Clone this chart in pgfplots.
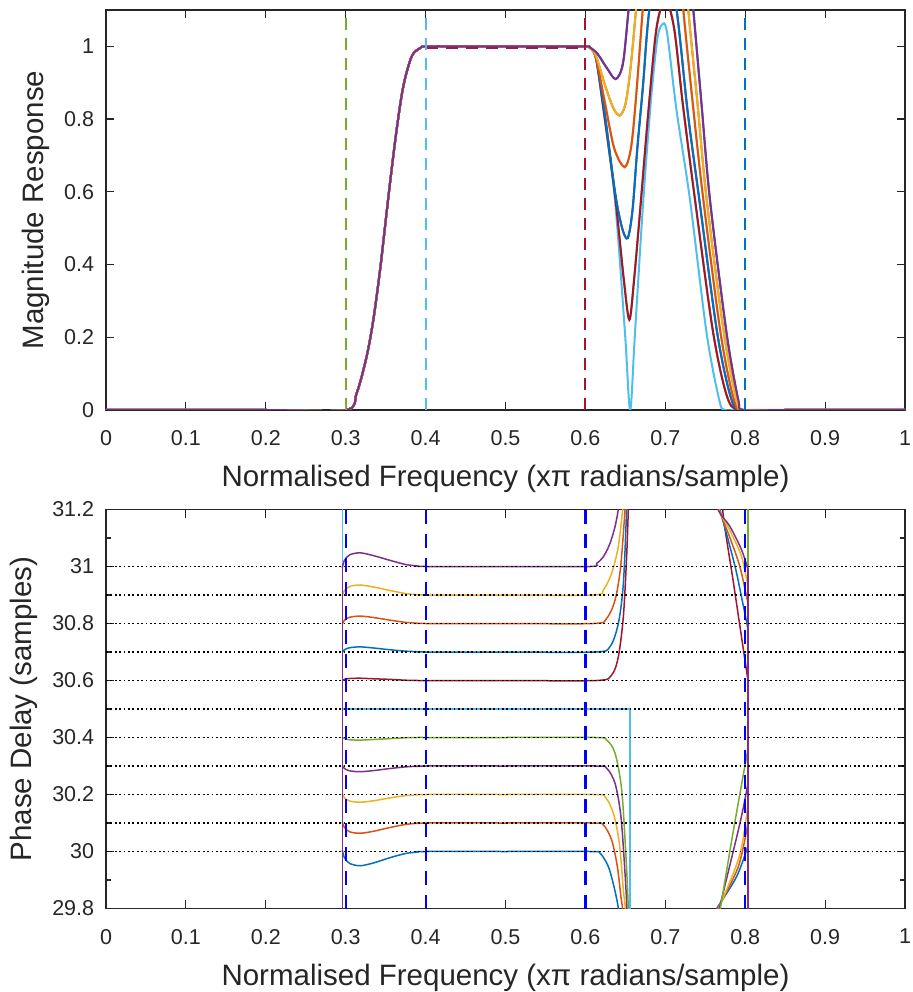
\documentclass[border=0pt]{standalone}
\usepackage{pgfplots}
\pgfplotsset{compat=1.18}
\usepackage{pgfplotstable}
\usepackage{fontspec}
\setmainfont{Liberation Sans}
\definecolor{mblue}{HTML}{0072BD}
\definecolor{morange}{HTML}{D95319}
\definecolor{myellow}{HTML}{EDB120}
\definecolor{mpurple}{HTML}{7E2F8E}
\definecolor{mgreen}{HTML}{77AC30}
\definecolor{mcyan}{HTML}{4DBEEE}
\definecolor{mred}{HTML}{A2142F}
\definecolor{axgray}{HTML}{262626}

% magnitude responses (pairs d and 61-d share one)
\pgfplotstableread{
x y
0 0
0.2 0
0.3 0
0.3137 0.046
0.3262 0.147
0.3346 0.248
0.343 0.385
0.3492 0.504
0.3554 0.623
0.3637 0.770
0.372 0.889
0.3825 0.972
0.393 0.995
0.401 1.0
0.45 1.0
0.5 1.0
0.55 1.0
0.6 1.0
0.605 0.998
0.615 0.98
0.627 0.94
0.638 0.91
0.647 0.953
0.654 1.1
0.665 1.35
0.695 1.55
0.725 1.35
0.7351 1.1
0.745 0.85
0.7559 0.578
0.7768 0.21
0.7914 0.027
0.7977 0
0.85 0
1 0
}\magA
\pgfplotstableread{
x y
0 0
0.2 0
0.3 0
0.3137 0.046
0.3262 0.147
0.3346 0.248
0.343 0.385
0.3492 0.504
0.3554 0.623
0.3637 0.770
0.372 0.889
0.3825 0.972
0.393 0.995
0.401 1.0
0.45 1.0
0.5 1.0
0.55 1.0
0.6 1.0
0.605 0.997
0.613 0.975
0.625 0.89
0.635 0.83
0.643 0.81
0.650 0.84
0.656 0.93
0.6633 1.1
0.675 1.4
0.696 1.52
0.718 1.4
0.7288 1.1
0.74 0.85
0.7518 0.578
0.7735 0.21
0.7893 0.027
0.7977 0
0.85 0
1 0
}\magB
\pgfplotstableread{
x y
0 0
0.2 0
0.3 0
0.3137 0.046
0.3262 0.147
0.3346 0.248
0.343 0.385
0.3492 0.504
0.3554 0.623
0.3637 0.770
0.372 0.889
0.3825 0.972
0.393 0.995
0.401 1.0
0.45 1.0
0.5 1.0
0.55 1.0
0.6 1.0
0.605 0.997
0.613 0.97
0.624 0.85
0.636 0.72
0.649 0.668
0.657 0.72
0.663 0.85
0.6717 1.1
0.68 1.35
0.697 1.48
0.714 1.35
0.7226 1.1
0.735 0.83
0.7476 0.578
0.7693 0.21
0.786 0.027
0.7977 0
0.85 0
1 0
}\magC
\pgfplotstableread{
x y
0 0
0.2 0
0.3 0
0.3137 0.046
0.3262 0.147
0.3346 0.248
0.343 0.385
0.3492 0.504
0.3554 0.623
0.3637 0.770
0.372 0.889
0.3825 0.972
0.393 0.995
0.401 1.0
0.45 1.0
0.5 1.0
0.55 1.0
0.6 1.0
0.605 0.997
0.613 0.97
0.623 0.835
0.637 0.60
0.646 0.50
0.653 0.473
0.659 0.55
0.665 0.72
0.672 0.89
0.680 1.1
0.697 1.32
0.7142 1.1
0.728 0.82
0.7426 0.578
0.7651 0.21
0.7831 0.027
0.7977 0
0.85 0
1 0
}\magD
\pgfplotstableread{
x y
0 0
0.2 0
0.3 0
0.3137 0.046
0.3262 0.147
0.3346 0.248
0.343 0.385
0.3492 0.504
0.3554 0.623
0.3637 0.770
0.372 0.889
0.3825 0.972
0.393 0.995
0.401 1.0
0.45 1.0
0.5 1.0
0.55 1.0
0.6 1.0
0.605 0.997
0.613 0.97
0.6225 0.83
0.637 0.59
0.648 0.36
0.655 0.248
0.661 0.36
0.6696 0.578
0.679 0.825
0.689 1.05
0.700 1.13
0.711 1.05
0.722 0.84
0.7372 0.578
0.7601 0.21
0.7789 0.027
0.7977 0
0.85 0
1 0
}\magE
\pgfplotstableread{
x y
0 0
0.2 0
0.3 0
0.3137 0.046
0.3262 0.147
0.3346 0.248
0.343 0.385
0.3492 0.504
0.3554 0.623
0.3637 0.770
0.372 0.889
0.3825 0.972
0.393 0.995
0.401 1.0
0.45 1.0
0.5 1.0
0.55 1.0
0.6 1.0
0.605 0.997
0.613 0.97
0.6225 0.825
0.637 0.578
0.6496 0.21
0.656 0.0
0.662 0.21
0.6725 0.578
0.682 0.85
0.690 1.02
0.696 1.06
0.702 1.04
0.714 0.825
0.7309 0.578
0.7518 0.21
0.7676 0.027
0.7747 0
0.80 0
1 0
}\magF

\pgfplotsset{
  mystyle/.style={
    scale only axis, width=399.5pt, anchor=south west,
    xmin=0, xmax=1,
    xtick={0,0.1,0.2,0.3,0.4,0.5,0.6,0.7,0.8,0.9,1},
    xticklabels={0,0.1,0.2,0.3,0.4,0.5,0.6,0.7,0.8,0.9,1},
    /pgf/number format/assume math mode=true,
    tick label style={font=\fontsize{10.75}{13}\selectfont, text=axgray},
    xticklabel style={yshift=-6.8pt},
    yticklabel style={xshift=-2.4pt},
    major tick length=4pt, minor tick length=2.5pt,
    tick align=inside,
    axis line style={axgray, line width=0.6pt},
    every tick/.style={axgray, line width=0.6pt},
    label style={font=\fontsize{14.75}{17}\selectfont, text=axgray},
    xlabel={Normalised Frequency (xπ radians/sample)},
    xlabel style={at={(axis description cs:0.5,0)}, anchor=base, yshift=-38.25pt},
  }
}

\begin{document}
\begin{tikzpicture}
\useasboundingbox (0,0) rectangle (456pt,496pt);
% ---------------- top axis ----------------
\begin{axis}[mystyle,
  at={(53pt,291pt)}, height=200pt,
  ymin=0, ymax=1.1,
  ytick={0,0.2,0.4,0.6,0.8,1},
  yticklabels={0,0.2,0.4,0.6,0.8,1},
  ylabel={Magnitude Response},
  ylabel style={at={(axis description cs:-0.0776,0.5)}, anchor=base, rotate=0},
]
\addplot[mblue, line width=1pt, smooth] table {\magA};
\addplot[morange, line width=1pt, smooth] table {\magB};
\addplot[myellow, line width=1pt, smooth] table {\magC};
\addplot[mpurple, line width=1pt, smooth] table {\magD};
\addplot[mgreen, line width=1pt, smooth] table {\magE};
\addplot[mcyan, line width=1pt, smooth] table {\magF};
\addplot[mred, line width=1pt, smooth] table {\magE};
\addplot[mblue, line width=1pt, smooth] table {\magD};
\addplot[morange, line width=1pt, smooth] table {\magC};
\addplot[myellow, line width=1pt, smooth] table {\magB};
\addplot[mpurple, line width=1pt, smooth] table {\magA};
\addplot[mred!70!mpurple, line width=0.9pt, dash pattern=on 6pt off 4pt] coordinates {(0.4,0.996) (0.6,0.996)};
\addplot[mgreen, line width=1pt, dash pattern=on 6pt off 4pt] coordinates {(0.3,0) (0.3,1.1)};
\addplot[mcyan, line width=1pt, dash pattern=on 6pt off 4pt] coordinates {(0.4,0) (0.4,1.1)};
\addplot[mred, line width=1pt, dash pattern=on 6pt off 4pt] coordinates {(0.6,0) (0.6,1.1)};
\addplot[mblue, line width=1pt, dash pattern=on 6pt off 4pt] coordinates {(0.8,0) (0.8,1.1)};
\end{axis}
% ---------------- bottom axis ----------------
\begin{axis}[mystyle,
  at={(53pt,41.75pt)}, height=199.5pt,
  ymin=29.8, ymax=31.2,
  ytick={29.8,30,30.2,30.4,30.6,30.8,31,31.2},
  yticklabels={29.8,30,30.2,30.4,30.6,30.8,31,31.2},
  minor ytick={29.9,30.1,30.3,30.5,30.7,30.9,31.1},
  ylabel={Phase Delay (samples)},
  ylabel style={at={(axis description cs:-0.093,0.5)}, anchor=base, rotate=0},
  every axis plot/.append style={line width=0.75pt},
]
% 30.0 blue
\addplot[mblue] coordinates {(0.2957,31.3) (0.2957,30.005)};
\addplot[mblue, smooth] coordinates {(0.2957,30.005) (0.2985,29.978) (0.305,29.958) (0.318,29.95) (0.335,29.96) (0.355,29.978) (0.375,29.993) (0.39,29.998) (0.40,30.0) (0.5,30.0) (0.605,30.0) (0.6183,29.994) (0.6287,29.947) (0.6358,29.876) (0.6412,29.8) (0.6435,29.7)};
\addplot[mblue, smooth] coordinates {(0.745,29.72) (0.7643,29.8) (0.7893,29.912) (0.8035,30.02)};
\addplot[mblue] coordinates {(0.8035,30.02) (0.8035,31.3)};
% 30.1 orange
\addplot[morange] coordinates {(0.2957,31.3) (0.2957,30.104)};
\addplot[morange, smooth] coordinates {(0.2957,30.104) (0.2985,30.084) (0.305,30.069) (0.318,30.064) (0.335,30.071) (0.355,30.084) (0.375,30.095) (0.39,30.099) (0.40,30.1) (0.5,30.1) (0.608,30.1) (0.6225,30.093) (0.6329,30.04) (0.64,29.947) (0.6445,29.841) (0.6466,29.8) (0.649,29.7)};
\addplot[morange, smooth] coordinates {(0.748,29.72) (0.7655,29.8) (0.7914,29.947) (0.8035,30.10)};
\addplot[morange] coordinates {(0.8035,30.10) (0.8035,31.3)};
% 30.2 yellow
\addplot[myellow] coordinates {(0.2957,31.3) (0.2957,30.203)};
\addplot[myellow, smooth] coordinates {(0.2957,30.203) (0.2985,30.188) (0.305,30.177) (0.318,30.173) (0.335,30.178) (0.355,30.188) (0.375,30.196) (0.39,30.199) (0.40,30.2) (0.5,30.2) (0.61,30.2) (0.6245,30.192) (0.635,30.134) (0.6425,30.029) (0.6475,29.865) (0.65,29.8) (0.6515,29.7)};
\addplot[myellow, smooth] coordinates {(0.7545,29.72) (0.7668,29.8) (0.7934,29.99) (0.8035,30.17)};
\addplot[myellow] coordinates {(0.8035,30.17) (0.8035,31.3)};
% 30.3 purple
\addplot[mpurple] coordinates {(0.2957,31.3) (0.2957,30.302)};
\addplot[mpurple, smooth] coordinates {(0.2957,30.302) (0.2985,30.291) (0.305,30.283) (0.318,30.28) (0.335,30.284) (0.355,30.291) (0.375,30.297) (0.39,30.299) (0.40,30.3) (0.5,30.3) (0.612,30.3) (0.6266,30.292) (0.6371,30.239) (0.6445,30.122) (0.6496,29.923) (0.652,29.8) (0.653,29.7)};
\addplot[mpurple, smooth] coordinates {(0.761,29.72) (0.7676,29.8) (0.7935,30.10) (0.8035,30.24)};
\addplot[mpurple] coordinates {(0.8035,30.24) (0.8035,31.3)};
% 30.4 green
\addplot[mgreen] coordinates {(0.2957,31.3) (0.2957,30.401)};
\addplot[mgreen, smooth] coordinates {(0.2957,30.401) (0.2985,30.396) (0.305,30.392) (0.318,30.391) (0.335,30.393) (0.355,30.396) (0.375,30.399) (0.39,30.4) (0.40,30.4) (0.5,30.4) (0.612,30.4) (0.6266,30.391) (0.6371,30.345) (0.6454,30.216) (0.6508,29.982) (0.6537,29.8) (0.6545,29.7)};
\addplot[mgreen, smooth] coordinates {(0.764,29.72) (0.7689,29.8) (0.785,30.07) (0.8035,30.36)};
\addplot[mgreen] coordinates {(0.8035,30.36) (0.8035,31.3)};
% 30.5 cyan
\addplot[mcyan] coordinates {(0.2957,31.3) (0.2957,30.5) (0.6558,30.5) (0.6558,29.7)};
% 30.6 dark red
\addplot[mred] coordinates {(0.2957,29.7) (0.2957,30.599)};
\addplot[mred, smooth] coordinates {(0.2957,30.599) (0.2985,30.604) (0.305,30.607) (0.318,30.608) (0.335,30.606) (0.355,30.604) (0.375,30.601) (0.39,30.6) (0.40,30.6) (0.5,30.6) (0.614,30.6) (0.6328,30.619) (0.6412,30.683) (0.6475,30.824) (0.6516,31.034) (0.6537,31.2) (0.6545,31.3)};
\addplot[mred, smooth] coordinates {(0.7765,31.3) (0.7718,31.2) (0.786,30.93) (0.8035,30.60)};
\addplot[mred] coordinates {(0.8035,30.60) (0.8035,29.7)};
% 30.7 blue
\addplot[mblue] coordinates {(0.2957,29.7) (0.2957,30.698)};
\addplot[mblue, smooth] coordinates {(0.2957,30.698) (0.2985,30.708) (0.305,30.715) (0.318,30.718) (0.335,30.714) (0.355,30.708) (0.375,30.703) (0.39,30.701) (0.40,30.7) (0.5,30.7) (0.612,30.7) (0.6308,30.719) (0.6412,30.80) (0.6475,30.94) (0.6516,31.2) (0.6525,31.3)};
\addplot[mblue, smooth] coordinates {(0.764,31.3) (0.7686,31.2) (0.779,31.09) (0.7893,30.976) (0.8035,30.78)};
\addplot[mblue] coordinates {(0.8035,30.78) (0.8035,29.7)};
% 30.8 orange
\addplot[morange] coordinates {(0.2957,29.7) (0.2957,30.797)};
\addplot[morange, smooth] coordinates {(0.2957,30.797) (0.2985,30.812) (0.305,30.822) (0.318,30.826) (0.335,30.821) (0.355,30.812) (0.375,30.804) (0.39,30.801) (0.40,30.8) (0.5,30.8) (0.61,30.8) (0.6266,30.818) (0.6371,30.882) (0.6441,30.999) (0.6496,31.2) (0.651,31.28)};
\addplot[morange, smooth] coordinates {(0.762,31.3) (0.7676,31.2) (0.781,31.1) (0.7934,30.999) (0.8035,30.87)};
\addplot[morange] coordinates {(0.8035,30.87) (0.8035,29.7)};
% 30.9 yellow
\addplot[myellow] coordinates {(0.2957,29.7) (0.2957,30.8965)};
\addplot[myellow, smooth] coordinates {(0.2957,30.8965) (0.2985,30.916) (0.305,30.93) (0.318,30.935) (0.335,30.928) (0.355,30.916) (0.375,30.905) (0.39,30.901) (0.40,30.9) (0.5,30.9) (0.6099,30.9) (0.6225,30.918) (0.6328,30.976) (0.6412,31.07) (0.6466,31.2) (0.649,31.27)};
\addplot[myellow, smooth] coordinates {(0.76,31.3) (0.767,31.2) (0.782,31.12) (0.7955,31.034) (0.8035,30.93)};
\addplot[myellow] coordinates {(0.8035,30.93) (0.8035,29.7)};
% 31.0 purple
\addplot[mpurple] coordinates {(0.2957,29.7) (0.2957,30.995)};
\addplot[mpurple, smooth] coordinates {(0.2957,30.995) (0.2985,31.022) (0.305,31.041) (0.318,31.048) (0.335,31.038) (0.355,31.022) (0.375,31.007) (0.39,31.002) (0.40,31.0) (0.5,31.0) (0.6058,31.0) (0.6141,31.011) (0.6225,31.034) (0.6308,31.081) (0.6371,31.14) (0.6412,31.2) (0.644,31.26)};
\addplot[mpurple, smooth] coordinates {(0.758,31.3) (0.7659,31.2) (0.781,31.14) (0.7955,31.058) (0.8035,30.99)};
\addplot[mpurple] coordinates {(0.8035,30.99) (0.8035,29.7)};
% dotted reference levels
\pgfplotsinvokeforeach{30.0,30.1,30.2,30.3,30.4,30.5,30.6,30.7,30.8,30.9,31.0}{
  \addplot[black, line width=0.9pt, dash pattern=on 0.9pt off 1.3pt] coordinates {(0,#1) (1,#1)};
}
% band edges
\pgfplotsinvokeforeach{0.3,0.4,0.6,0.8}{
  \addplot[blue, line width=1.1pt, dash pattern=on 7pt off 5pt] coordinates {(#1,29.8) (#1,31.2)};
}
\end{axis}
\end{tikzpicture}
\end{document}
